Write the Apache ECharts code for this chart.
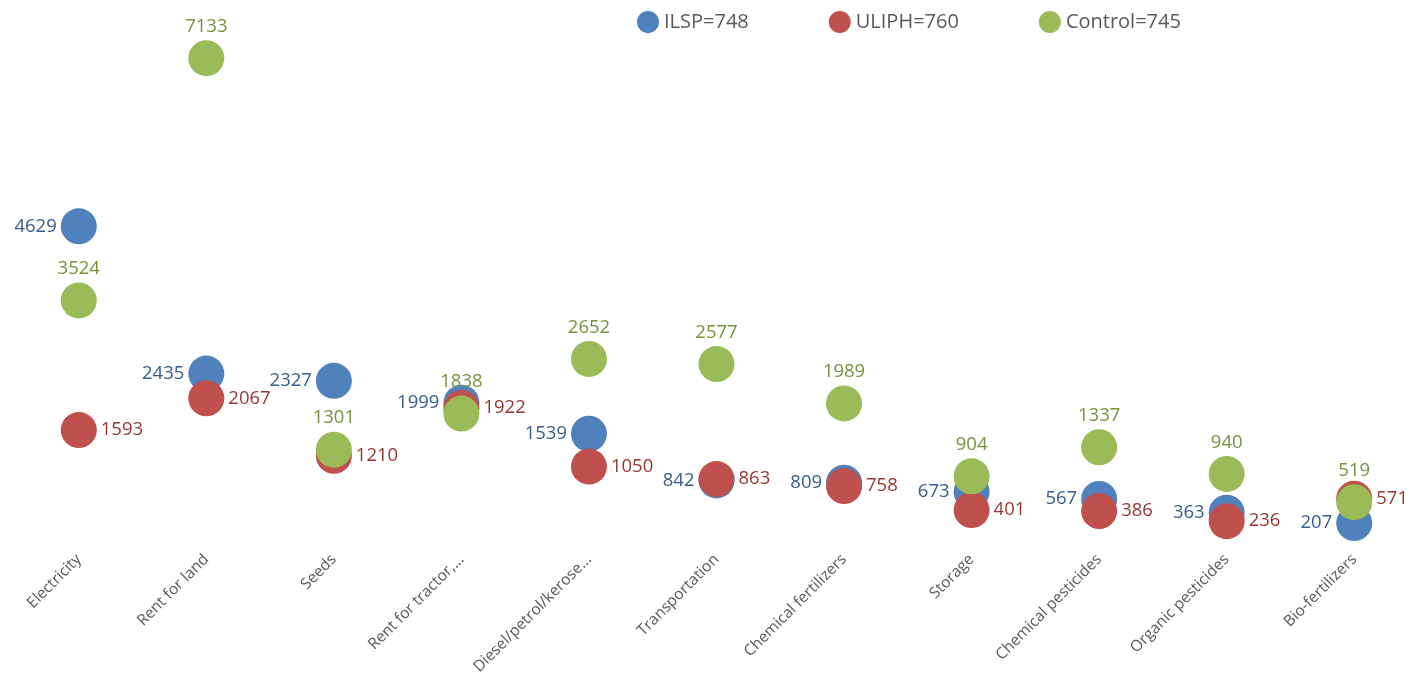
<!DOCTYPE html>
<html>
<head>
<meta charset="utf-8">
<script src="https://cdn.jsdelivr.net/npm/echarts@6/dist/echarts.min.js"></script>
<style>
  html, body { margin: 0; padding: 0; background: #fff; }
  #main { width: 1410px; height: 675px; }
</style>
</head>
<body>
<div id="main"></div>
<script>
// categories on the x axis
var categories = ['Electricity', 'Rent for land', 'Seeds', 'Rent for tractor,...', 'Diesel/petrol/kerose...',
  'Transportation', 'Chemical fertilizers', 'Storage', 'Chemical pesticides', 'Organic pesticides', 'Bio-fertilizers'];

// series values
var ilsp = [4629, 2435, 2327, 1999, 1539, 842, 809, 673, 567, 363, 207];
var uliph = [1593, 2067, 1210, 1922, 1050, 863, 758, 401, 386, 236, 571];
var control = [3524, 7133, 1301, 1838, 2652, 2577, 1989, 904, 1337, 940, 519];

var font = 'Open Sans';

function dots(name, data, color, labelColor, pos) {
  return {
    name: name,
    type: 'scatter',
    data: data,
    symbolSize: 36,
    itemStyle: { color: color, opacity: 1 },
    label: {
      show: true,
      position: pos,
      distance: 4,
      color: labelColor,
      fontFamily: font,
      fontSize: 18.5
    },
    emphasis: { disabled: true }
  };
}

var chart = echarts.init(document.getElementById('main'));
chart.setOption({
  animation: false,
  color: ['#4F81BD', '#C0504D', '#9BBB59'],
  legend: {
    top: 6,
    left: 632,
    icon: 'circle',
    itemWidth: 22,
    itemHeight: 22,
    itemGap: 80,
    textStyle: { fontFamily: font, fontSize: 20, color: '#595959' }
  },
  grid: { left: 15, right: -8, top: 0, bottom: 138, outerBoundsMode: 'none', containLabel: false },
  xAxis: {
    type: 'category',
    data: categories,
    axisLine: { show: false },
    axisTick: { show: false },
    axisLabel: {
      rotate: 45,
      interval: 0,
      margin: 20,
      color: '#595959',
      fontFamily: font,
      fontSize: 15.5
    }
  },
  yAxis: {
    type: 'value',
    min: 0,
    max: 8000,
    show: false,
    splitLine: { show: false }
  },
  series: [
    dots('ILSP=748', ilsp, '#4F81BD', '#385D8A', 'left'),
    dots('ULIPH=760', uliph, '#C0504D', '#953735', 'right'),
    dots('Control=745', control, '#9BBB59', '#76923C', 'top')
  ]
});
</script>
</body>
</html>
